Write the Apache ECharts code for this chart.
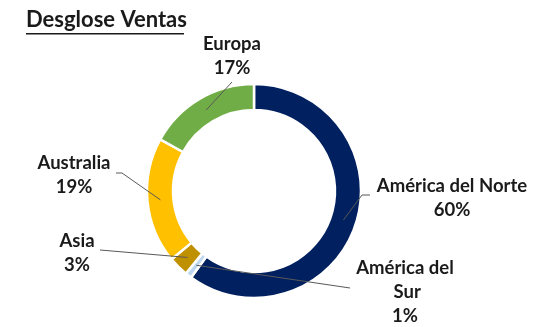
<!DOCTYPE html>
<html>
<head>
<meta charset="utf-8">
<script src="https://cdn.jsdelivr.net/npm/echarts@6/dist/echarts.min.js"></script>
<style>
  html, body { margin: 0; padding: 0; background: #ffffff; }
  #chart { width: 535px; height: 327px; }
</style>
</head>
<body>
<div id="chart"></div>
<script>
// Sales breakdown by region (share of total, %)
const regions = ['América del Norte', 'América del Sur', 'Asia', 'Australia', 'Europa'];
const shares = [60, 1, 3, 19, 17];
const sliceColors = ['#002060', '#BDD7EE', '#BF9000', '#FFC000', '#70AD47'];

// Ring geometry (px)
const CX = 254, CY = 191, R_IN = 81, R_OUT = 107;

// Where each region's label block is centred (px)
const labelSpots = [
  [452, 198],
  [405, 292],
  [77, 253],
  [74, 175],
  [232, 56]
];
// Leader line points on the label side: [elbow, end]
const leaderEnds = [
  [[362, 195], [370, 195]],
  [[350, 288], [350, 288]],
  [[100, 250], [100, 250]],
  [[122, 173], [116, 173]],
  [[232, 82], [232, 82]]
];

// Mid-angle of each slice (clockwise from 12 o'clock), derived from the shares
const total = shares.reduce(function (a, b) { return a + b; }, 0);
const midAngles = [];
(function () {
  let acc = 0;
  shares.forEach(function (v) {
    midAngles.push((acc + v / 2) / total * Math.PI * 2);
    acc += v;
  });
})();

function ringPoint(i) {
  const r = (R_IN + R_OUT) / 2;
  return [CX + r * Math.sin(midAngles[i]), CY - r * Math.cos(midAngles[i])];
}

// Leader lines drawn above the ring, from the slice middle to its label
const leaderLines = regions.map(function (name, i) {
  return {
    type: 'polyline',
    z: 100,
    silent: true,
    shape: { points: [ringPoint(i), leaderEnds[i][0], leaderEnds[i][1]] },
    style: { stroke: '#595959', lineWidth: 1, fill: null }
  };
});

const chart = echarts.init(document.getElementById('chart'), null, { renderer: 'canvas' });

chart.setOption({
  animation: false,
  backgroundColor: '#ffffff',
  graphic: [
    {
      type: 'text',
      left: 26,
      top: 9,
      style: {
        text: 'Desglose Ventas',
        fontFamily: 'Lato',
        fontWeight: 'bold',
        fontSize: 22,
        fill: '#1a1a1a'
      }
    },
    {
      type: 'rect',
      left: 26,
      top: 33,
      shape: { width: 158, height: 1.6 },
      style: { fill: '#1a1a1a' }
    }
  ].concat(leaderLines),
  series: [{
    type: 'pie',
    center: [CX, CY],
    radius: [R_IN, R_OUT],
    startAngle: 90,
    clockwise: true,
    avoidLabelOverlap: false,
    itemStyle: { borderColor: '#ffffff', borderWidth: 2.5 },
    label: {
      show: true,
      position: 'outside',
      align: 'center',
      formatter: '{b}\n{c}%',
      fontFamily: 'Lato',
      fontWeight: 'bold',
      fontSize: 18.5,
      lineHeight: 24,
      color: '#1a1a1a'
    },
    labelLine: { show: false },
    labelLayout: function (params) {
      const spot = labelSpots[params.dataIndex];
      return {
        x: spot[0],
        y: spot[1],
        align: 'center',
        verticalAlign: 'middle'
      };
    },
    data: regions.map(function (name, i) {
      const item = {
        name: name,
        value: shares[i],
        itemStyle: { color: sliceColors[i] }
      };
      if (name === 'América del Sur') {
        item.label = { width: 110, overflow: 'break' };
      }
      return item;
    })
  }]
});
</script>
</body>
</html>
